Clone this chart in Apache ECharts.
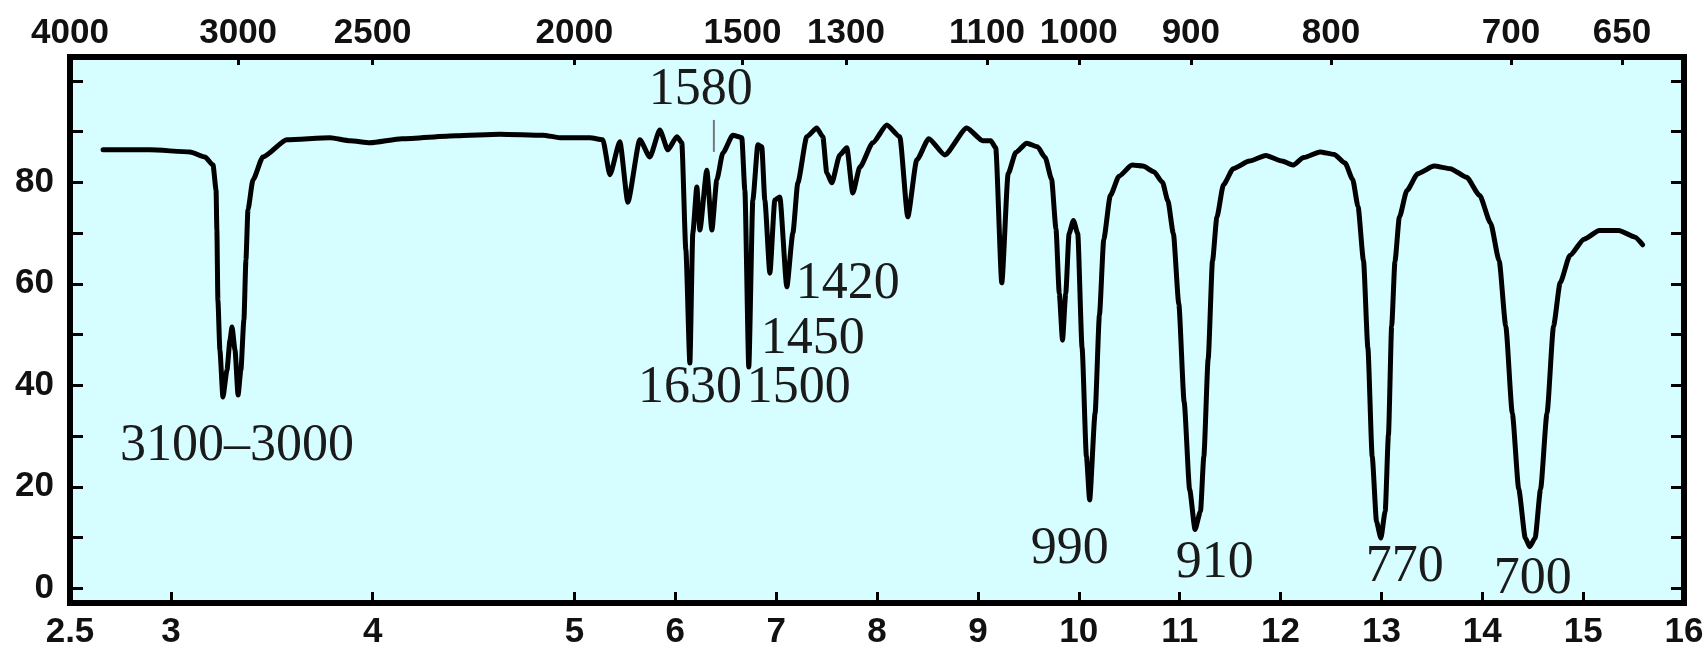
<!DOCTYPE html>
<html>
<head>
<meta charset="utf-8">
<script src="https://cdn.jsdelivr.net/npm/echarts@6/dist/echarts.min.js"></script>
<style>
  html, body { margin: 0; padding: 0; background: #fff; }
  #main { width: 1704px; height: 651px; }
</style>
</head>
<body>
<div id="main"></div>
<script>
// wavelength in µm, transmittance in %
const wavelength = [
  2.664, 2.896, 3.095, 3.169, 3.209, 3.224, 3.228, 3.233, 3.243, 3.258,
  3.278, 3.293, 3.303, 3.318, 3.333, 3.347, 3.362, 3.372, 3.382, 3.407,
  3.456, 3.575, 3.789, 3.888, 3.987, 4.145, 4.413, 4.631, 4.844, 4.928,
  5.154, 5.282, 5.352, 5.451, 5.530, 5.649, 5.748, 5.847, 5.927, 6.016,
  6.065, 6.105, 6.145, 6.174, 6.214, 6.244, 6.313, 6.363, 6.412, 6.472,
  6.571, 6.660, 6.690, 6.729, 6.769, 6.819, 6.858, 6.888, 6.938, 6.987,
  7.037, 7.106, 7.166, 7.215, 7.304, 7.403, 7.463, 7.502, 7.552, 7.631,
  7.701, 7.760, 7.830, 7.958, 8.097, 8.226, 8.305, 8.394, 8.513, 8.672,
  8.890, 9.049, 9.128, 9.177, 9.237, 9.300, 9.376, 9.484, 9.591, 9.667,
  9.731, 9.774, 9.807, 9.839, 9.871, 9.904, 9.947, 9.990, 10.033, 10.076,
  10.108, 10.162, 10.205, 10.248, 10.313, 10.399, 10.528, 10.636, 10.744, 10.830,
  10.884, 10.938, 10.992, 11.045, 11.099, 11.153, 11.207, 11.240, 11.283, 11.326,
  11.369, 11.434, 11.531, 11.692, 11.854, 12.015, 12.123, 12.230, 12.392, 12.532,
  12.640, 12.715, 12.769, 12.823, 12.866, 12.909, 12.952, 12.995, 13.038, 13.070,
  13.102, 13.135, 13.178, 13.253, 13.361, 13.522, 13.684, 13.845, 13.975, 14.082,
  14.168, 14.233, 14.298, 14.362, 14.427, 14.470, 14.524, 14.578, 14.642, 14.707,
  14.772, 14.869, 15.009, 15.160, 15.354, 15.515, 15.590
];
const transmittance = [
  86.4, 86.4, 86.0, 85.0, 83.4, 78.5, 70.6, 56.8, 46.9, 37.7,
  43.0, 48.9, 51.5, 46.9, 38.1, 43.0, 52.9, 64.7, 74.6, 80.5,
  85.0, 88.4, 88.8, 88.2, 87.8, 88.6, 89.2, 89.5, 89.3, 88.8,
  88.8, 88.4, 81.5, 88.0, 76.1, 88.4, 85.0, 90.3, 86.4, 89.0,
  87.8, 66.7, 44.4, 70.0, 79.1, 70.6, 82.4, 70.6, 80.5, 85.8,
  89.3, 88.8, 78.5, 43.6, 76.5, 87.4, 87.0, 76.5, 62.1, 76.5,
  77.1, 59.4, 70.0, 79.9, 89.0, 90.7, 89.0, 81.9, 79.9, 85.4,
  86.8, 77.9, 83.0, 87.8, 91.3, 89.0, 73.2, 84.4, 88.6, 85.4,
  90.7, 88.2, 88.2, 86.8, 60.2, 81.7, 85.9, 87.7, 87.0, 84.9,
  80.6, 70.9, 58.1, 48.9, 58.1, 69.9, 72.5, 69.9, 47.4, 26.0,
  17.4, 34.5, 53.8, 68.8, 77.4, 81.2, 83.4, 83.2, 82.1, 80.0,
  76.3, 69.9, 56.0, 36.7, 19.5, 11.6, 15.2, 26.0, 45.2, 64.5,
  73.1, 79.5, 82.7, 84.2, 85.3, 84.2, 83.4, 84.9, 86.0, 85.5,
  83.8, 80.6, 75.2, 64.5, 47.4, 26.0, 13.1, 9.9, 15.2, 30.2,
  51.7, 64.5, 73.1, 78.4, 81.7, 83.2, 82.7, 81.0, 77.4, 72.0,
  64.5, 51.7, 34.5, 19.5, 9.9, 8.2, 9.9, 19.5, 34.5, 51.7,
  60.2, 65.6, 68.8, 70.5, 70.5, 69.2, 67.7
];

const bottomTicks = [2.5, 3, 4, 5, 6, 7, 8, 9, 10, 11, 12, 13, 14, 15, 16];
const topWavenumbers = [4000, 3000, 2500, 2000, 1500, 1300, 1100, 1000, 900, 800, 700, 650];
const yTicks = [0, 10, 20, 30, 40, 50, 60, 70, 80, 90, 100];
const yLabels = [0, 20, 40, 60, 80];

const peakNames = ['3100\u20133000', '1630', '1500', '1450', '1420', '1580', '990', '910', '770', '700'];
const peakLambda = [3.328, 6.145, 7.225, 7.364, 7.711, 6.254, 9.911, 11.348, 13.231, 14.50];
const peakT = [28.0, 39.4, 39.4, 49.1, 59.8, 98.2, 7.7, 4.9, 4.1, 1.8];
// short pointer line under the 1580 label
const markerLambda = [6.383, 6.383];
const markerT = [92.3, 86.0];

// chart paper: 2.5–5 µm is drawn at twice the scale of 5–16 µm
function toU(lam) {
  return lam <= 5 ? (lam - 2.5) * 2 : lam;
}
function nearest(list, v) {
  let best = 0;
  list.forEach((x, i) => { if (Math.abs(x - v) < Math.abs(list[best] - v)) best = i; });
  return best;
}

const bottomU = bottomTicks.map(toU);
const topU = topWavenumbers.map(n => toU(1e4 / n));

const axisFont = {
  fontFamily: "'Liberation Sans', Arial, sans-serif",
  fontWeight: 'bold',
  fontSize: 35,
  color: '#111'
};
const tickStyle = { show: true, inside: true, length: 13, lineStyle: { color: '#000', width: 3 } };
const noLine = { show: false, onZero: false };

const chart = echarts.init(document.getElementById('main'));
chart.setOption({
  animation: false,
  grid: {
    left: 70, right: 20, top: 57, bottom: 48,
    outerBoundsMode: 'none',
    containLabel: false,
    show: true,
    backgroundColor: '#d6fdff',
    borderColor: '#000',
    borderWidth: 6
  },
  xAxis: [{
    type: 'value',
    position: 'bottom',
    min: 0, max: 16,
    axisLine: noLine,
    splitLine: { show: false },
    axisTick: Object.assign({ customValues: bottomU }, tickStyle, { length: 11 }),
    axisLabel: Object.assign({
      customValues: bottomU,
      margin: 12,
      formatter: v => String(bottomTicks[nearest(bottomU, v)])
    }, axisFont)
  }, {
    type: 'value',
    position: 'top',
    min: 0, max: 16,
    axisLine: noLine,
    splitLine: { show: false },
    axisTick: Object.assign({ customValues: topU }, tickStyle, { length: 8 }),
    axisLabel: Object.assign({
      customValues: topU,
      margin: 6,
      formatter: v => String(topWavenumbers[nearest(topU, v)])
    }, axisFont)
  }],
  yAxis: [{
    type: 'value',
    position: 'left',
    min: -2.9, max: 104.7,
    axisLine: noLine,
    splitLine: { show: false },
    axisTick: Object.assign({ customValues: yTicks }, tickStyle),
    axisLabel: Object.assign({ customValues: yLabels, margin: 16 }, axisFont)
  }, {
    type: 'value',
    position: 'right',
    min: -2.9, max: 104.7,
    axisLine: noLine,
    splitLine: { show: false },
    axisTick: Object.assign({ customValues: yTicks }, tickStyle),
    axisLabel: { show: false }
  }],
  series: [{
    type: 'line',
    data: wavelength.map((l, i) => [toU(l), transmittance[i]]),
    symbol: 'none',
    smooth: 0.2,
    smoothMonotone: 'x',
    lineStyle: { color: '#000', width: 5, cap: 'round', join: 'round' },
    z: 3
  }, {
    type: 'line',
    data: markerLambda.map((l, i) => [toU(l), markerT[i]]),
    symbol: 'none',
    lineStyle: { color: '#777', width: 2 },
    z: 2
  }, {
    type: 'scatter',
    symbolSize: 0,
    itemStyle: { opacity: 1 },
    data: peakNames.map((n, i) => ({ name: n, value: [toU(peakLambda[i]), peakT[i]] })),
    label: {
      show: true,
      position: 'inside',
      formatter: '{b}',
      fontFamily: "'Liberation Serif', 'DejaVu Serif', serif",
      fontSize: 52,
      color: '#1a1a1a',
      opacity: 1,
      textBorderWidth: 0,
      textBorderColor: 'transparent'
    },
    z: 4
  }]
});
</script>
</body>
</html>
